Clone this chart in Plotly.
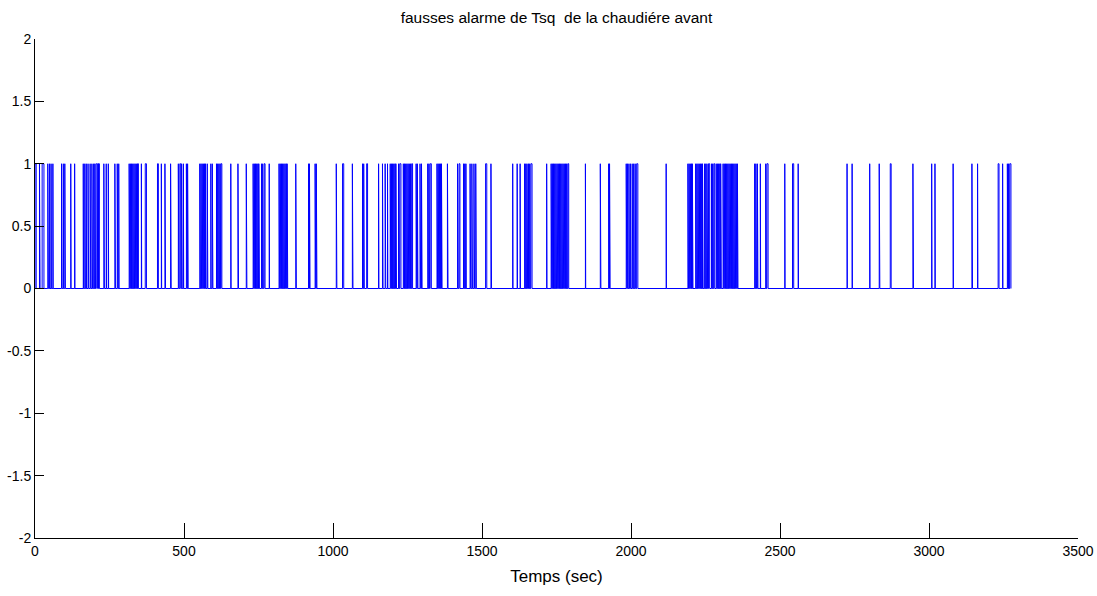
import plotly.graph_objects as go

# Alarm intervals (seconds): each alarm goes to 1 at alarm_start and back to 0 at alarm_end
alarm_start = [
    0, 15, 24, 43, 49, 54, 60, 89, 95, 100, 120, 133, 162, 167, 172, 178, 185, 191, 197, 201,
    205, 207, 211, 214, 231, 239, 246, 268, 276, 281,
    316, 320, 324, 328, 332, 336, 340, 344, 357, 370, 411, 424, 436, 455, 481, 486, 492, 498,
    508, 512, 553, 557, 561, 565, 569, 572, 578, 590, 595, 609, 613, 617, 621, 624,
    657, 681, 709, 732, 736, 740, 744, 748, 751, 760, 764, 769, 786, 819, 823, 827, 831, 835,
    839, 843, 846, 875, 918, 921, 940, 944,
    1011, 1032, 1065, 1099, 1103, 1113, 1153, 1166, 1175, 1183, 1192, 1196, 1200, 1204, 1208,
    1211, 1220, 1224, 1236, 1240, 1244, 1248, 1252, 1256, 1260, 1264, 1279, 1283, 1292, 1297,
    1318, 1322, 1326,
    1349, 1353, 1357, 1361, 1364, 1384, 1418, 1423, 1438, 1442, 1446, 1460, 1466, 1473, 1479,
    1512, 1530, 1603, 1618, 1628, 1643, 1647, 1651, 1656, 1660, 1664,
    1717, 1732, 1736, 1740, 1744, 1748, 1752, 1756, 1760, 1764, 1768, 1772, 1776, 1780, 1784,
    1788, 1847, 1897, 1925, 1928, 1984, 1988, 1993, 1998, 2004, 2009, 2014, 2019,
    2118, 2191, 2195, 2199, 2203, 2206, 2217, 2221, 2225, 2229, 2233, 2237, 2240, 2247, 2251,
    2255, 2260, 2270, 2274, 2278, 2286, 2290, 2294, 2298, 2301, 2309, 2313, 2317, 2321, 2325,
    2329, 2333, 2337, 2341, 2345, 2349, 2353, 2357,
    2415, 2419, 2424, 2434, 2452, 2456, 2516, 2542, 2561,
    2725, 2742, 2801, 2833, 2870, 2946,
    3009, 3020, 3081, 3144, 3163, 3232, 3247, 3263, 3267, 3271,
]
alarm_end = [
    4, 17, 30, 45, 50, 55, 61, 91, 96, 102, 121, 134, 163, 169, 173, 180, 187, 193, 199, 203,
    206, 209, 213, 216, 233, 240, 247, 270, 278, 282,
    318, 322, 326, 330, 334, 338, 342, 347, 358, 374, 414, 425, 438, 457, 483, 489, 494, 499,
    510, 514, 555, 559, 563, 567, 571, 574, 580, 591, 597, 611, 615, 619, 623, 627,
    658, 683, 711, 734, 738, 742, 746, 750, 753, 762, 766, 772, 787, 821, 825, 829, 833, 837,
    841, 845, 848, 877, 920, 923, 942, 946,
    1013, 1036, 1067, 1101, 1105, 1116, 1154, 1168, 1177, 1184, 1194, 1198, 1202, 1206, 1210,
    1213, 1222, 1228, 1238, 1242, 1246, 1250, 1254, 1258, 1262, 1267, 1281, 1285, 1294, 1299,
    1320, 1324, 1330,
    1351, 1355, 1359, 1363, 1366, 1386, 1420, 1426, 1440, 1444, 1447, 1462, 1468, 1475, 1481,
    1516, 1532, 1604, 1619, 1629, 1645, 1649, 1653, 1658, 1662, 1668,
    1718, 1734, 1738, 1742, 1746, 1750, 1754, 1758, 1762, 1766, 1770, 1774, 1778, 1782, 1786,
    1791, 1848, 1899, 1927, 1930, 1986, 1990, 1995, 2000, 2006, 2011, 2016, 2023,
    2119, 2193, 2197, 2201, 2205, 2208, 2219, 2223, 2227, 2231, 2235, 2239, 2242, 2249, 2253,
    2257, 2264, 2272, 2276, 2281, 2288, 2292, 2296, 2300, 2303, 2311, 2315, 2319, 2323, 2327,
    2331, 2335, 2339, 2343, 2347, 2351, 2355, 2359,
    2417, 2421, 2426, 2435, 2454, 2460, 2517, 2546, 2562,
    2726, 2743, 2802, 2835, 2873, 2948,
    3010, 3021, 3082, 3146, 3164, 3235, 3248, 3265, 3269, 3275,
]

x_ticks = [0, 500, 1000, 1500, 2000, 2500, 3000, 3500]
y_ticks = [-2, -1.5, -1, -0.5, 0, 0.5, 1, 1.5, 2]
y_tick_labels = ["-2", "-1.5", "-1", "-0.5", "0", "0.5", "1", "1.5", "2"]

# Binary alarm signal as a stepped polyline
t, s = [0], [0]
for a, b in zip(alarm_start, alarm_end):
    t += [a, a, b, b]
    s += [0, 1, 1, 0]

font_main = "Liberation Sans Narrow, Arial Narrow, Liberation Sans, Arial, sans-serif"

fig = go.Figure(
    go.Scatter(x=t, y=s, mode="lines", line=dict(color="#0000ff", width=1), hoverinfo="skip")
)

fig.update_layout(
    width=1097,
    height=596,
    margin=dict(l=35, r=19, t=39, b=58, autoexpand=False),
    paper_bgcolor="white",
    plot_bgcolor="white",
    showlegend=False,
    font=dict(family=font_main, size=14, color="black"),
    title=dict(
        text="fausses alarme de Tsq\u00a0 de la chaudiére avant",
        x=0.5, xanchor="center", xref="paper",
        y=1 - 18 / 596, yanchor="middle",
        font=dict(family=font_main, size=15.5, color="black"),
    ),
)

fig.update_xaxes(
    range=[0, 3500],
    tickvals=x_ticks,
    ticktext=[str(v) for v in x_ticks],
    ticks="inside", ticklen=15, tickwidth=1, tickcolor="black",
    showline=True, linecolor="black", linewidth=1, mirror=False,
    showgrid=False, zeroline=False, automargin=False,
    tickfont=dict(size=14),
    title=dict(text="Temps (sec)", font=dict(size=17), standoff=12),
)
fig.update_yaxes(
    range=[-2, 2],
    tickvals=y_ticks,
    ticktext=y_tick_labels,
    ticks="inside", ticklen=9, tickwidth=1, tickcolor="black",
    showline=True, linecolor="black", linewidth=1, mirror=False,
    showgrid=False, zeroline=False, automargin=False,
    tickfont=dict(size=14),
)

fig.write_html("out.html")
